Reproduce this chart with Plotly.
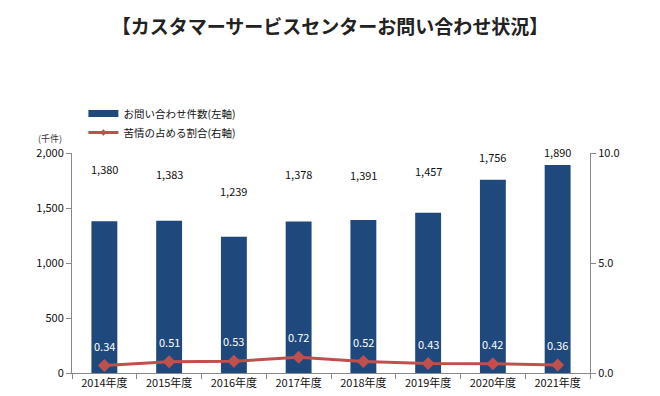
import plotly.graph_objects as go

categories = ["2014年度", "2015年度", "2016年度", "2017年度", "2018年度", "2019年度", "2020年度", "2021年度"]
inquiries = [1380, 1383, 1239, 1378, 1391, 1457, 1756, 1890]
complaint_ratio = [0.34, 0.51, 0.53, 0.72, 0.52, 0.43, 0.42, 0.36]
left_ticks = [0, 500, 1000, 1500, 2000]
right_ticks = [0, 5, 10]
# pixel offsets of the bar value labels above the bar tops (manual label placement)
bar_label_shift = [52, 47, 46, 47, 45, 42, 23, 13]

FONT = "Noto Sans CJK JP, DejaVu Sans, sans-serif"
BLUE = "#1F497D"
RED = "#C0504D"
NAME_BAR = "お問い合わせ件数(左軸)"
NAME_LINE = "苦情の占める割合(右軸)"

fig = go.Figure()
fig.add_trace(go.Bar(
    x=categories, y=inquiries, name=NAME_BAR, showlegend=False,
    legendgroup="bar",
    marker=dict(color=BLUE, line=dict(width=0)), width=0.4,
    yaxis="y",
))
fig.add_trace(go.Scatter(
    x=categories, y=complaint_ratio, name=NAME_LINE, showlegend=False,
    legendgroup="line",
    mode="lines+markers", yaxis="y2",
    line=dict(color=RED, width=3),
    marker=dict(symbol="diamond", size=10, color=RED),
))
# legend-only entries (wide bar swatch, thin line swatch like the original)
fig.add_trace(go.Scatter(
    x=[None], y=[None], name=NAME_BAR, legendgroup="bar", mode="lines",
    line=dict(color=BLUE, width=7), yaxis="y",
))
fig.add_trace(go.Scatter(
    x=[None], y=[None], name=NAME_LINE, legendgroup="line", mode="lines+markers",
    line=dict(color=RED, width=3), marker=dict(symbol="diamond", size=5, color=RED),
    yaxis="y2",
))

for c, v, s in zip(categories, inquiries, bar_label_shift):
    fig.add_annotation(x=c, y=v, yref="y", text=f"{v:,}", showarrow=False,
                       yshift=s, font=dict(size=11, color="#111", family=FONT))

for c, v in zip(categories, complaint_ratio):
    fig.add_annotation(x=c, y=v, yref="y2", text=f"{v:.2f}", showarrow=False,
                       yshift=20, font=dict(size=11, color="white", family=FONT))

fig.add_annotation(x=-0.042, y=1.068, xref="paper", yref="paper", text="(千件)",
                   xanchor="center", yanchor="middle",
                   showarrow=False, font=dict(size=9, color="#333", family=FONT))

fig.update_layout(
    width=660, height=396,
    margin=dict(l=72, r=70, t=153, b=23, autoexpand=False),
    paper_bgcolor="white", plot_bgcolor="white",
    font=dict(family=FONT, size=11, color="#111"),
    title=dict(text="<b>【カスタマーサービスセンターお問い合わせ状況】</b>",
               x=0.5, xanchor="center", y=0.93, yanchor="middle",
               font=dict(size=19, color="#222", family=FONT)),
    showlegend=True,
    legend=dict(x=0.022, y=1.245, xanchor="left", yanchor="top",
                font=dict(size=10.5, family=FONT), bgcolor="rgba(0,0,0,0)",
                itemwidth=30, tracegroupgap=0),
    bargap=0.6,
    xaxis=dict(showline=True, linecolor="#888", linewidth=1, ticks="outside",
               tickson="boundaries", ticklen=5, tickcolor="#888",
               tickfont=dict(size=11), showgrid=False),
    yaxis=dict(range=[0, 2000], tickvals=left_ticks, tickformat=",",
               showline=True, linecolor="#888", ticks="outside", ticklen=5,
               tickcolor="#888", showgrid=False, zeroline=False,
               tickfont=dict(size=11)),
    yaxis2=dict(range=[0, 10], tickvals=right_ticks, tickformat=".1f",
                overlaying="y", side="right", showline=True, linecolor="#888",
                ticks="outside", ticklen=5, tickcolor="#888", showgrid=False,
                zeroline=False, tickfont=dict(size=11)),
)

fig.write_html("out.html", config={"displayModeBar": False},
               post_script="document.body.style.margin='0';")
